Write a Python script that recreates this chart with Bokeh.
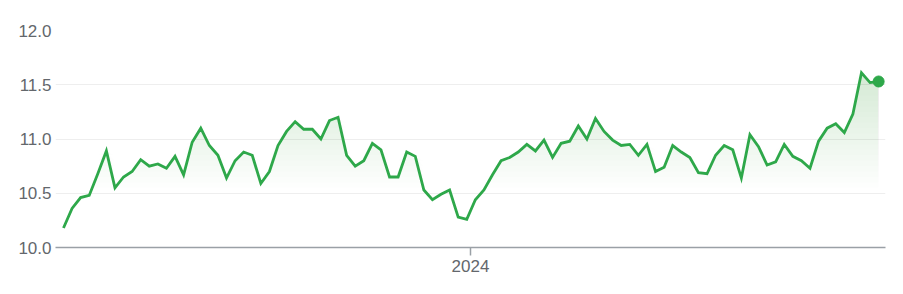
import numpy as np
import pandas as pd
from bokeh.plotting import figure
from bokeh.models import FixedTicker, DatetimeTickFormatter, Range1d, NumeralTickFormatter
from bokeh.embed import file_html
from bokeh.resources import INLINE

start_date = "2023-02-03"
values = [10.18, 10.36, 10.46, 10.48, 10.68, 10.89, 10.55, 10.65, 10.70, 10.81,
          10.75, 10.77, 10.73, 10.84, 10.67, 10.97, 11.10, 10.94, 10.85, 10.64,
          10.80, 10.88, 10.85, 10.59, 10.70, 10.94, 11.07, 11.16, 11.09, 11.09,
          11.00, 11.17, 11.20, 10.85, 10.75, 10.80, 10.96, 10.90, 10.65, 10.65,
          10.88, 10.84, 10.53, 10.44, 10.49, 10.53, 10.28, 10.26, 10.44, 10.53,
          10.67, 10.80, 10.83, 10.88, 10.95, 10.89, 10.99, 10.83, 10.96, 10.98,
          11.12, 11.00, 11.19, 11.07, 10.99, 10.94, 10.95, 10.85, 10.95, 10.70,
          10.74, 10.94, 10.88, 10.83, 10.69, 10.68, 10.85, 10.94, 10.90, 10.64,
          11.04, 10.93, 10.76, 10.79, 10.95, 10.84, 10.80, 10.73, 10.98, 11.10,
          11.14, 11.06, 11.23, 11.61, 11.52, 11.53]
y_ticks = [10.0, 10.5, 11.0, 11.5, 12.0]
x_tick_dates = ["2024-01-01"]

dates = pd.date_range(start_date, periods=len(values), freq="7D")
vals = np.array(values)

GREEN = "#2ea84a"
FILL = "#3fae3c"
week = pd.Timedelta(days=7)
x0 = dates[0] - 0.93 * week
x1 = dates[0] + 95.8 * week

p = figure(width=903, height=294, x_axis_type="datetime", output_backend="svg",
           toolbar_location=None, x_range=Range1d(x0, x1), y_range=Range1d(10.0, 12.0),
           min_border_left=55, min_border_right=18, min_border_top=30, min_border_bottom=47)
p.outline_line_color = None
p.background_fill_color = "white"
p.border_fill_color = "white"

# gradient-like fill under the line
levels = np.arange(10.55, 11.65, 0.05)
for lv in levels:
    p.varea(x=dates, y1=np.full(len(vals), lv), y2=np.maximum(vals, lv),
            fill_color=FILL, fill_alpha=0.0075)

p.line(dates, vals, line_color=GREEN, line_width=2.8, line_join="miter")
p.scatter([dates[-1]], [vals[-1]], size=11, fill_color=GREEN, line_color=GREEN)

# y axis
yax = p.yaxis[0]
yax.ticker = FixedTicker(ticks=y_ticks)
yax.formatter = NumeralTickFormatter(format="0.0")
yax.axis_line_color = None
yax.major_tick_line_color = None
yax.minor_tick_line_color = None
yax.major_label_text_font = "Liberation Sans"
yax.major_label_text_font_size = "17px"
yax.major_label_text_color = "#63676c"
yax.major_label_standoff = -2

# x axis
xax = p.xaxis[0]
xax.ticker = FixedTicker(ticks=[pd.Timestamp(d).value / 1e6 for d in x_tick_dates])
xax.formatter = DatetimeTickFormatter(years="%Y", months="%Y", days="%Y", hours="%Y")
xax.axis_line_color = "#9aa0a6"
xax.axis_line_width = 1.5
xax.major_tick_line_color = "#9aa0a6"
xax.major_tick_line_width = 1.5
xax.major_tick_in = 0
xax.major_tick_out = 8
xax.minor_tick_line_color = None
xax.major_label_text_font = "Liberation Sans"
xax.major_label_text_font_size = "17px"
xax.major_label_text_color = "#63676c"
xax.major_label_standoff = 4

p.xgrid.grid_line_color = None
p.ygrid.ticker = FixedTicker(ticks=y_ticks)
p.ygrid.grid_line_color = "#eeeeee"
p.ygrid.grid_line_width = 1

open("out.html", "w").write(file_html(p, INLINE))
